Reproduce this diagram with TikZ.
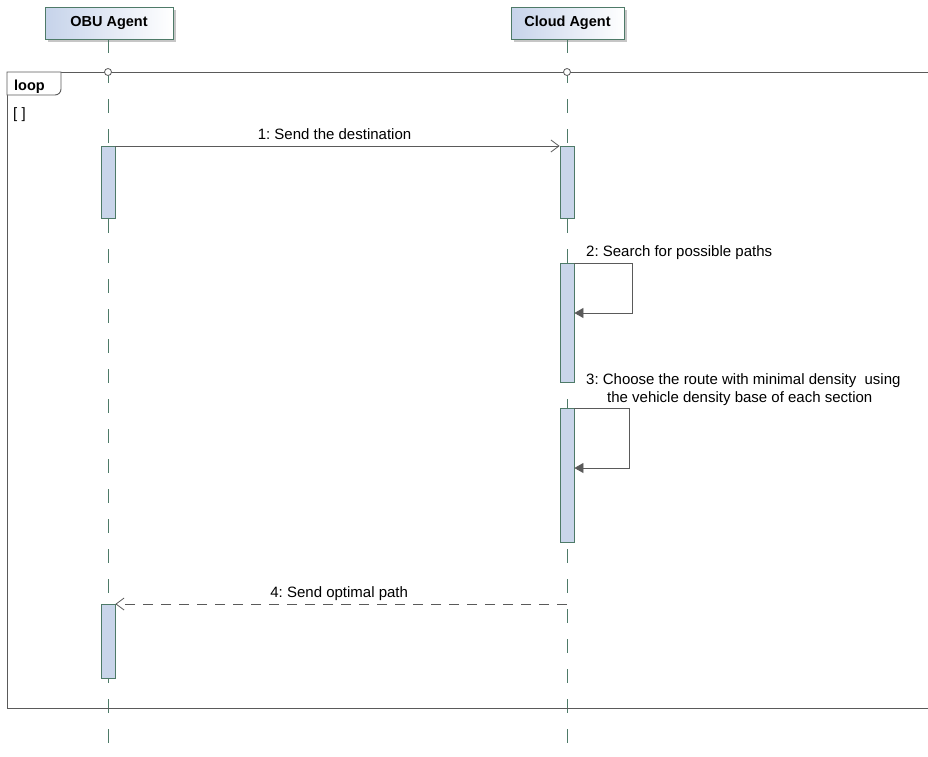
\documentclass[tikz,border=0pt]{standalone}
\usepackage{fontspec}
\setmainfont{Liberation Sans}
\usetikzlibrary{arrows.meta,shadows,calc}
\definecolor{lgreen}{HTML}{4E7A68}
\definecolor{actfill}{HTML}{C9D5EA}
\definecolor{hdrleft}{HTML}{C6D3EA}
\definecolor{framec}{HTML}{5A5A5A}
\tikzset{
  hdr/.style={draw=lgreen, line width=0.9pt, left color=hdrleft, right color=white,
    minimum height=32pt, inner sep=0pt, font=\bfseries\fontsize{14.5}{16}\selectfont,
    drop shadow={shadow xshift=3pt, shadow yshift=-3pt, fill=gray!45, opacity=1}},
  lifeline/.style={draw=lgreen, line width=0.9pt, dash pattern=on 14pt off 16pt},
  act/.style={draw=lgreen, fill=actfill, line width=0.8pt, minimum width=14pt, inner sep=0pt},
  msg/.style={draw=framec, line width=0.8pt},
  lbl/.style={font=\fontsize{15}{18}\selectfont, inner sep=0pt},
  openarrow/.style={-{Straight Barb[length=8pt,width=12pt,line width=0.8pt]}},
  filledarrow/.style={-{Triangle[length=9pt,width=10pt]}},
  gate/.style={circle, draw=framec, fill=white, line width=0.8pt, minimum size=7pt, inner sep=0pt}
}
\begin{document}
\begin{tikzpicture}[x=1pt,y=-1pt]
\useasboundingbox (0,0) rectangle (928,756);
% headers
\node[hdr, minimum width=128pt] (obu) at (109,23) {OBU Agent};
\node[hdr, minimum width=113pt] (cloud) at (567.5,23) {Cloud Agent};
% lifelines
\coordinate (obuend) at (108,756);
\coordinate (cloudend) at (567,756);
\draw[lifeline] (obu.south -| obuend) -- (obuend);
\draw[lifeline] (cloud.south -| cloudend) -- (cloudend);
% loop frame
\coordinate (frTL) at (7,72);
\coordinate (frBR) at (940,708);
\draw[framec, line width=0.9pt] (frTL) rectangle (frBR);
\draw[framec, line width=0.9pt, fill=white] (frTL) -- (61,72) -- (61,89) to[out=270,in=0] (55,95) -- (7,95) -- cycle;
\node[font=\bfseries\fontsize{14.5}{16}\selectfont, anchor=base west, inner sep=0pt] (looplbl) at (14,90) {loop};
\node[lbl, anchor=base west] (guard) at (13,118) {[ ]};
\node[gate] (g1) at (108,72) {};
\node[gate] (g2) at (567,72) {};
% activations
\node[act, minimum height=72pt, anchor=north] (a1) at (108,146) {};
\node[act, minimum height=72pt, anchor=north] (c1) at (567,146) {};
\node[act, minimum height=119pt, anchor=north] (c2) at (567,263) {};
\node[act, minimum height=134pt, anchor=north] (c3) at (567,408) {};
\node[act, minimum height=74pt, anchor=north] (a2) at (108,604) {};
% message 1
\draw[msg, openarrow] (a1.north east) -- (c1.north west)
  node[lbl, midway, anchor=base, yshift=7pt, xshift=-3pt] (m1) {1:\ Send the destination};
% message 2 self
\coordinate (s2) at (632,313);
\draw[msg, filledarrow] (c2.north east) -- (c2.north east -| s2) -- (s2) -- (s2 -| c2.east);
\node[lbl, anchor=base west] (m2) at (586,256) {2:\ Search for possible paths};
% message 3 self
\coordinate (s3) at (629,468);
\draw[msg, filledarrow] (c3.north east) -- (c3.north east -| s3) -- (s3) -- (s3 -| c3.east);
\node[lbl, anchor=base west] (m3) at (586,384) {3:\ Choose the route with minimal density\ \ using};
\node[lbl, anchor=base west] (m3b) at (607,402) {the vehicle density base of each section};
% message 4
\coordinate (r4) at (567,604);
\draw[msg, openarrow, dash pattern=on 10pt off 8pt] (r4) -- (a2.north east)
  node[lbl, midway, anchor=base, yshift=7pt, xshift=-2pt] (m4) {4:\ Send optimal path};
\end{tikzpicture}
\end{document}
